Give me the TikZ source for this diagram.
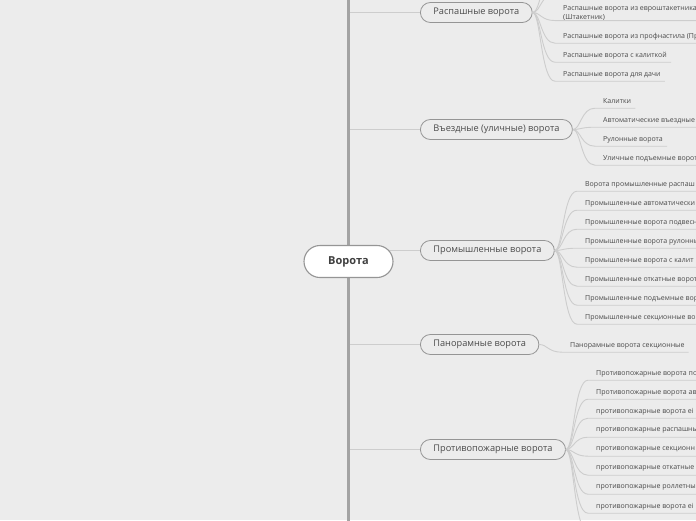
\documentclass[tikz,border=0pt]{standalone}
\usepackage{fontspec}
\setmainfont{Open Sans}
\usetikzlibrary{positioning}
\definecolor{bgcol}{HTML}{ECECEC}
\definecolor{trunkcol}{HTML}{A3A3A3}
\definecolor{linecol}{HTML}{CDCDCD}
\definecolor{rimcol}{HTML}{959595}
\definecolor{inkcol}{HTML}{4A4A4A}

\begin{document}
\begin{tikzpicture}[x=1pt,y=-1pt,
  rootbox/.style={draw=rimcol,line width=1.1pt,fill=white,rounded corners=16pt,
    minimum height=32pt,minimum width=89pt,inner xsep=0pt,
    font=\fontsize{11}{13}\selectfont\bfseries,text=inkcol!85!black},
  branchbox/.style={draw=rimcol,line width=.8pt,fill=bgcol,rounded corners=10pt,
    minimum height=20pt,inner xsep=13pt,anchor=west,
    font=\fontsize{9.2}{11}\selectfont,text=inkcol},
  leaf/.style={anchor=west,inner xsep=4pt,inner ysep=0pt,minimum height=13pt,
    align=left,font=\fontsize{7}{8.6}\selectfont,text=inkcol},
  twig/.style={linecol,line width=.9pt},
  trunk/.style={trunkcol,line width=2.4pt}]
  \fill[bgcol] (0,0) rectangle (696,520);
  \useasboundingbox (0,0) rectangle (696,520);
  \clip (0,0) rectangle (696,520);

  \begin{scope}[yshift=-1.5pt]
  \coordinate (root) at (348.5,260);
  \coordinate (trunktop) at (348.5,-4);
  \coordinate (trunkbot) at (348.5,522);

  % main branches
  \node[branchbox] (b1) at (420,11) {Распашные ворота};
  \node[branchbox] (b2) at (420,128) {Въездные (уличные) ворота};
  \node[branchbox] (b3) at (420,249) {Промышленные ворота};
  \node[branchbox] (b4) at (420,343) {Панорамные ворота};
  \node[branchbox] (b5) at (420,448) {Противопожарные ворота};

  \foreach \b in {b1,b2,b3,b4,b5}
    \draw[twig] (root |- \b.west) -- (\b.west);
  \draw[trunk] (root) -- (trunktop);
  \draw[trunk] (root) -- (trunkbot);
  \node[rootbox] (center) at (root) {Ворота};

  % leaves of b1
  \coordinate (r0) at (555,-8);
  \coordinate (r00) at (555,-27);
  \draw[twig] (b1.east) .. controls +(8,0) and +(-14,0) .. (r0);
  \draw[twig] (b1.east) .. controls +(8,0) and +(-14,0) .. (r00);
  \node[leaf] (r1) at (559,11.5) {Распашные ворота из евроштакетника\\(Штакетник)};
  \draw[twig] (b1.east) .. controls +(8,0) and +(-14,0) .. ([xshift=-4pt]r1.south west) -- (r1.south east);
  \foreach \i/\y/\txt in {2/35/{Распашные ворота из профнастила (Пр},
      3/54/{Распашные ворота с калиткой},4/73/{Распашные ворота для дачи}} {
    \node[leaf] (r\i) at (559,\y) {\txt};
    \draw[twig] (b1.east) .. controls +(8,0) and +(-14,0) .. ([xshift=-4pt]r\i.south west) -- (r\i.south east);
  }

  % leaves of b2
  \foreach \i/\y/\txt in {1/100/{Калитки},2/119/{Автоматические въездные},
      3/138/{Рулонные ворота},4/157/{Уличные подъемные ворот}} {
    \node[leaf] (v\i) at (599,\y) {\txt};
    \draw[twig] (b2.east) .. controls +(8,0) and +(-14,0) .. ([xshift=-4pt]v\i.south west) -- (v\i.south east);
  }

  % leaves of b3
  \foreach \i/\y/\txt in {1/183/{Ворота промышленные распаш},
      2/202/{Промышленные автоматически},3/221/{Промышленные ворота подвесн},
      4/240/{Промышленные ворота рулонны},5/259/{Промышленные ворота с калит},
      6/278/{Промышленные откатные ворот},7/297/{Промышленные подъемные вор},
      8/316/{Промышленные секционные во}} {
    \node[leaf] (p\i) at (581,\y) {\txt};
    \draw[twig] (b3.east) .. controls +(8,0) and +(-14,0) .. ([xshift=-4pt]p\i.south west) -- (p\i.south east);
  }

  % leaf of b4
  \node[leaf] (n1) at (566,344) {Панорамные ворота секционные};
  \draw[twig] (b4.east) .. controls +(8,0) and +(-14,0) .. ([xshift=-4pt]n1.south west) -- (n1.south east);

  % leaves of b5
  \foreach \i/\y/\txt in {1/372/{Противопожарные ворота по},
      2/391/{Противопожарные ворота ав},3/410/{противопожарные ворота ei},
      4/429/{противопожарные распашны},5/448/{противопожарные секционн},
      6/467/{противопожарные откатные},7/486/{противопожарные роллетны},
      8/505/{противопожарные ворота ei}} {
    \node[leaf] (f\i) at (592,\y) {\txt};
    \draw[twig] (b5.east) .. controls +(8,0) and +(-14,0) .. ([xshift=-4pt]f\i.south west) -- (f\i.south east);
  }
  \coordinate (f9) at (588,530);
  \draw[twig] (b5.east) .. controls +(8,0) and +(-14,0) .. (f9);
  \end{scope}
\end{tikzpicture}
\end{document}
